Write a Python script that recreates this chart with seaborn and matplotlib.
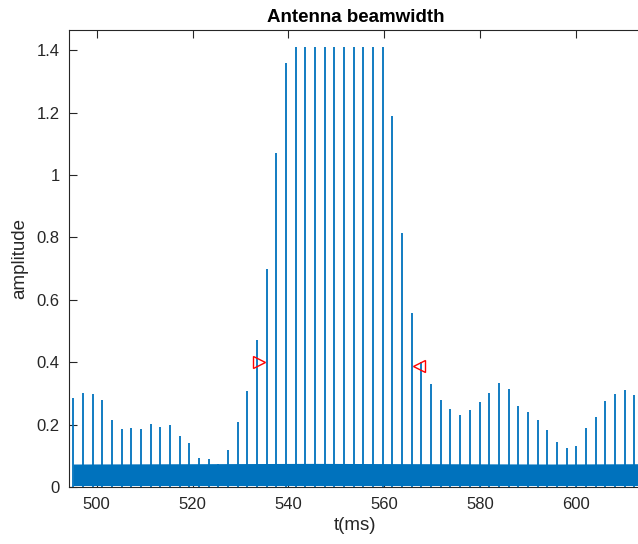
import matplotlib
matplotlib.use("Agg")
import matplotlib.pyplot as plt
import seaborn as sns
import pandas as pd

# ---- data ----
pulse_t = [495.12, 497.14, 499.15, 501.17, 503.19, 505.21, 507.22, 509.24, 511.26, 513.27,
           515.29, 517.31, 519.32, 521.34, 523.36, 525.38, 527.39, 529.41, 531.43, 533.44,
           535.46, 537.48, 539.49, 541.51, 543.53, 545.55, 547.56, 549.58, 551.60, 553.61,
           555.63, 557.65, 559.66, 561.68, 563.70, 565.72, 567.73, 569.75, 571.77, 573.78,
           575.80, 577.82, 579.83, 581.85, 583.87, 585.89, 587.90, 589.92, 591.94, 593.95,
           595.97, 597.99, 600.00, 602.02, 604.04, 606.06, 608.07, 610.09, 612.11]
pulse_amp = [0.287, 0.303, 0.298, 0.278, 0.214, 0.185, 0.188, 0.186, 0.203, 0.192,
             0.198, 0.164, 0.140, 0.093, 0.089, 0.075, 0.119, 0.210, 0.307, 0.470,
             0.700, 1.071, 1.359, 1.410, 1.410, 1.410, 1.410, 1.410, 1.410, 1.410,
             1.410, 1.410, 1.410, 1.188, 0.815, 0.558, 0.400, 0.329, 0.279, 0.249,
             0.232, 0.246, 0.273, 0.300, 0.333, 0.313, 0.260, 0.241, 0.214, 0.183,
             0.145, 0.126, 0.131, 0.188, 0.224, 0.277, 0.298, 0.311, 0.296]

# noise floor envelope
noise_t = [495.1, 520.0, 545.0, 570.0, 595.0, 614.0]
noise_lo = [0.005, 0.005, 0.005, 0.005, 0.005, 0.005]
noise_hi = [0.074, 0.075, 0.076, 0.075, 0.074, 0.075]

# beamwidth markers
mark_t = [533.9, 567.25]
mark_amp = [0.401, 0.389]
mark_shape = [">", "<"]

x_ticks = [500, 520, 540, 560, 580, 600]
y_ticks = [0, 0.2, 0.4, 0.6, 0.8, 1, 1.2, 1.4]
y_ticklabels = ["0", "0.2", "0.4", "0.6", "0.8", "1", "1.2", "1.4"]

# ---- styling ----
sns.set_style("white")
plt.rcParams["font.family"] = ["Liberation Sans", "DejaVu Sans"]
dark = "#262626"
blue = "#0072BD"

fig = plt.figure(figsize=(6.38, 5.44), dpi=100)
ax = fig.add_axes([69.3 / 638, 56.9 / 544, (641.5 - 69.3) / 638, (487.1 - 30.0) / 544])

df = pd.DataFrame({"t": pulse_t, "amp": pulse_amp})
noise = pd.DataFrame({"t": noise_t, "lo": noise_lo, "hi": noise_hi})

ax.fill_between(noise["t"], noise["lo"], noise["hi"], color=blue, lw=0, zorder=2)
ax.vlines(df["t"], 0, df["amp"], color=blue, lw=1.3, zorder=3)

for t, a, m in zip(mark_t, mark_amp, mark_shape):
    ax.plot([t], [a], marker=m, ms=8.5, mfc="none", mec="red", mew=1.0,
            ls="none", zorder=4)

ax.set_xlim(494.3, 494.3 + (641.5 - 69.3) / 4.796)
ax.set_ylim(0, 1.465)
ax.set_xticks(x_ticks)
ax.set_yticks(y_ticks)
ax.set_yticklabels(y_ticklabels)

ax.tick_params(axis="both", direction="in", length=6, width=0.8, color=dark,
               labelcolor=dark, labelsize=12, top=True, bottom=True, left=True,
               right=False, pad=7)
for side in ["left", "bottom", "top"]:
    ax.spines[side].set_visible(True)
    ax.spines[side].set_color(dark)
    ax.spines[side].set_linewidth(0.8)
ax.spines["right"].set_visible(False)

ax.set_xlabel("t(ms)", fontsize=13.5, color=dark, labelpad=4)
ax.set_ylabel("amplitude", fontsize=13.5, color=dark, labelpad=6)
ax.set_title("Antenna beamwidth", fontsize=13.5, fontweight="bold", color="black", pad=6)

fig.savefig("out.png", dpi=100)
